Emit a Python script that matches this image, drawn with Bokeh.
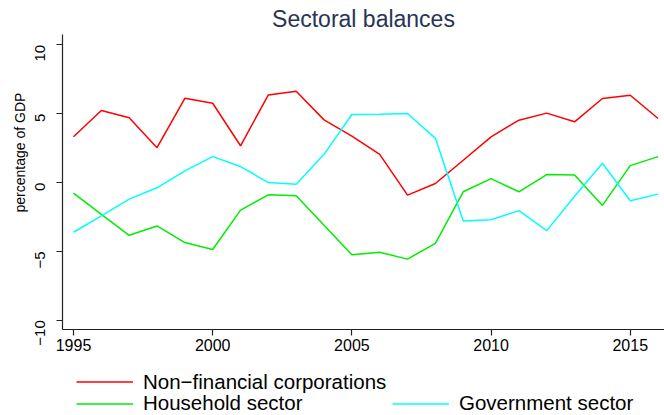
import math
from bokeh.plotting import figure
from bokeh.layouts import column
from bokeh.models import Range1d, FixedTicker, Legend, LegendItem, Title
from bokeh.embed import file_html
from bokeh.resources import INLINE

# ---- data ----
years = list(range(1995, 2017))
nfc = [3.32, 5.23, 4.70, 2.53, 6.12, 5.76, 2.67, 6.36, 6.63, 4.55, 3.37,
       2.05, -0.91, -0.07, 1.62, 3.32, 4.53, 5.04, 4.41, 6.10, 6.34, 4.65]
household = [-0.77, -2.31, -3.83, -3.15, -4.36, -4.86, -2.00, -0.89, -0.96, -3.10, -5.25,
             -5.06, -5.56, -4.41, -0.67, 0.29, -0.67, 0.58, 0.55, -1.66, 1.23, 1.88]
government = [-3.61, -2.42, -1.20, -0.38, 0.85, 1.88, 1.16, 0.00, -0.12, 2.05, 4.94,
              4.96, 5.01, 3.21, -2.79, -2.70, -2.04, -3.49, -1.00, 1.40, -1.32, -0.84]

series = [nfc, household, government]
series_names = ["Non\u2212financial corporations", "Household sector", "Government sector"]
series_colors = ["#ff0000", "#00ee00", "#00ffff"]

x_ticks = [1995, 2000, 2005, 2010, 2015]
y_ticks = [-10, -5, 0, 5, 10]
y_tick_labels = ["\u221210", "\u22125", "0", "5", "10"]

title_text = "Sectoral balances"
y_label_text = "percentage of GDP"

FONT = "Liberation Sans"

# ---------------- main chart ----------------
p = figure(width=664, height=357, output_backend="svg", toolbar_location=None,
           x_range=Range1d(1994.605, 2016.23), y_range=Range1d(-10.67, 10.75),
           min_border_left=62, min_border_right=0, min_border_top=33,
           min_border_bottom=28, title=title_text)

p.title.align = "center"
p.title.text_font = FONT
p.title.text_font_size = "23px"
p.title.text_font_style = "normal"
p.title.text_color = "#283454"
p.title.standoff = 6

p.xgrid.grid_line_color = None
p.ygrid.grid_line_color = None
p.outline_line_color = None
p.background_fill_color = "white"
p.border_fill_color = "white"

p.xaxis.ticker = FixedTicker(ticks=x_ticks)
p.yaxis.ticker = FixedTicker(ticks=y_ticks)
p.yaxis.major_label_overrides = {t: l for t, l in zip(y_ticks, y_tick_labels)}

for ax in (p.xaxis[0], p.yaxis[0]):
    ax.axis_line_color = "#222222"
    ax.axis_line_width = 1.2
    ax.major_tick_line_color = "#222222"
    ax.major_tick_line_width = 1.2
    ax.major_tick_out = 6
    ax.major_tick_in = 0
    ax.minor_tick_line_color = None
    ax.major_label_text_font = FONT
    ax.major_label_text_color = "black"

p.xaxis.major_label_text_font_size = "16px"
p.xaxis.major_label_standoff = 3
p.yaxis.major_label_text_font_size = "15px"
p.yaxis.major_label_orientation = math.pi / 2
p.yaxis.major_label_standoff = 16

# y-axis title in the left panel, shifted upwards as in the reference
ytitle = Title(text=y_label_text, align="left", offset=117, standoff=0,
               text_font=FONT, text_font_size="14px", text_font_style="normal",
               text_color="black")
p.add_layout(ytitle, "left")

for vals, col in zip(series, series_colors):
    p.line(years, vals, line_color=col, line_width=1.5)

# ---------------- legend strip below the chart ----------------
lg = figure(width=664, height=58, output_backend="svg", toolbar_location=None,
            x_range=Range1d(0, 1), y_range=Range1d(0, 1),
            x_axis_type=None, y_axis_type=None, min_border=0)
lg.outline_line_color = None
lg.background_fill_color = "white"
lg.border_fill_color = "white"

# same series, kept outside the strip's visible range: they only supply legend glyphs
lg_renderers = [lg.line(years, vals, line_color=col, line_width=1.5)
                for vals, col in zip(series, series_colors)]

def make_legend(items, loc, lw, **kw):
    return Legend(items=items, location=loc, padding=0, margin=0,
                  glyph_width=57, glyph_height=23, label_height=23, label_width=lw,
                  label_standoff=10, label_text_font=FONT,
                  label_text_font_size="20.5px", label_text_color="black",
                  border_line_color=None, background_fill_alpha=0, **kw)

legA = make_legend([LegendItem(label=series_names[0], renderers=[lg_renderers[0]])],
                   (14, 21.5), 20)
legB = make_legend([LegendItem(label=series_names[1], renderers=[lg_renderers[1]]),
                    LegendItem(label=series_names[2], renderers=[lg_renderers[2]])],
                   (14, 0), 191, orientation="horizontal", spacing=58)
lg.add_layout(legA)
lg.add_layout(legB)

layout = column(p, lg, spacing=0)

open("out.html", "w").write(file_html(layout, INLINE))
